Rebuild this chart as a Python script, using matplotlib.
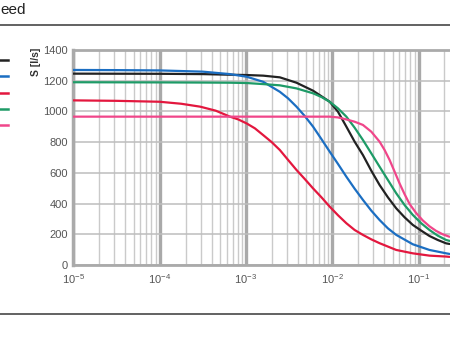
import matplotlib
matplotlib.use("Agg")
import matplotlib.pyplot as plt
from matplotlib.lines import Line2D
from matplotlib.ticker import LogLocator, FixedLocator, LogFormatterMathtext

plt.rcParams['font.family'] = ['Liberation Sans', 'DejaVu Sans']

# curves: x as log10 exponent, S in l/s
black_x = [-5, -4, -3.5, -3.185, -2.992, -2.8, -2.607, -2.414, -2.222, -2.029, -1.933, -1.836, -1.74,
           -1.644, -1.547, -1.451, -1.355, -1.258, -1.162, -1.066, -0.969, -0.873, -0.777, -0.68, -0.64]
black_y = [1246, 1245, 1243, 1239, 1237, 1233, 1222, 1187, 1135, 1063, 998, 901, 803,
           716, 614, 521, 441, 369, 311, 261, 224, 189, 163, 141, 137]

blue_x = [-5, -4.5, -4, -3.5, -3.185, -2.992, -2.8, -2.607, -2.511, -2.414, -2.318, -2.222, -2.125,
          -2.029, -1.933, -1.836, -1.74, -1.644, -1.547, -1.451, -1.355, -1.258, -1.066, -0.873, -0.68, -0.64]
blue_y = [1270, 1269, 1267, 1259, 1243, 1226, 1193, 1128, 1085, 1031, 970, 901, 820,
          738, 658, 575, 497, 424, 354, 293, 239, 196, 135, 98, 76, 72]

red_x = [-5, -4.5, -4, -3.75, -3.53, -3.35, -3.185, -3.089, -2.992, -2.896, -2.8, -2.703, -2.607, -2.511,
         -2.414, -2.318, -2.222, -2.125, -2.029, -1.933, -1.836, -1.74, -1.644, -1.547, -1.451, -1.258,
         -1.066, -0.873, -0.68, -0.64]
red_y = [1072, 1069, 1063, 1050, 1031, 1005, 966, 948, 922, 890, 846, 801, 749, 684,
         619, 560, 499, 441, 380, 324, 272, 228, 196, 167, 142, 98,
         76, 61, 55, 53]

green_x = [-5, -4, -3.5, -3.185, -2.992, -2.8, -2.607, -2.414, -2.222, -2.125, -2.029, -1.933, -1.836,
           -1.74, -1.644, -1.547, -1.451, -1.355, -1.258, -1.162, -1.066, -0.969, -0.873, -0.777, -0.68, -0.64]
green_y = [1190, 1189, 1188, 1187, 1185, 1178, 1170, 1150, 1118, 1094, 1063, 1020, 966,
           894, 814, 727, 640, 554, 467, 391, 326, 272, 228, 191, 163, 157]

pink_x = [-5, -4, -3, -2.5, -2.029, -1.933, -1.836, -1.74, -1.644, -1.547, -1.451, -1.393, -1.335,
          -1.277, -1.22, -1.162, -1.104, -1.027, -0.95, -0.873, -0.796, -0.719, -0.642]
pink_y = [966, 966, 966, 966, 966, 961, 948, 933, 912, 868, 803, 749, 684,
          608, 532, 462, 398, 338, 290, 252, 222, 200, 184]

series = [
    (black_x, black_y, '#222222'),
    (blue_x, blue_y, '#1b6ec2'),
    (red_x, red_y, '#e3173e'),
    (green_x, green_y, '#1e9b67'),
    (pink_x, pink_y, '#f0468a'),
]

y_ticks = [0, 200, 400, 600, 800, 1000, 1200, 1400]

fig = plt.figure(figsize=(4.5, 3.38), dpi=100)
ax = fig.add_axes([73.3 / 450, 1 - 265 / 338, 1 - 73.3 / 450, 215 / 338])

for xs, ys, col in series:
    ax.plot([10 ** v for v in xs], ys, color=col, lw=1.6, solid_capstyle='round',
            solid_joinstyle='round', zorder=3)

ax.set_xscale('log')
ax.set_xlim(1e-5, 10 ** -0.635)
ax.set_ylim(0, 1400)
ax.xaxis.set_major_locator(LogLocator(base=10, numticks=10))
ax.xaxis.set_major_formatter(LogFormatterMathtext())
ax.xaxis.set_minor_locator(LogLocator(base=10, subs=range(2, 10), numticks=20))
ax.yaxis.set_major_locator(FixedLocator(y_ticks))

ax.grid(which='major', axis='x', color='#a9a9a9', lw=2.4)
ax.grid(which='minor', axis='x', color='#cacaca', lw=1.0)
ax.grid(which='major', axis='y', color='#bdbdbd', lw=1.1)
ax.tick_params(which='both', length=0, labelsize=8, colors='#555555', pad=4)
ax.tick_params(axis='x', pad=5)

for side in ['left', 'top', 'bottom']:
    ax.spines[side].set_color('#aaaaaa')
    ax.spines[side].set_linewidth(2)
ax.spines['left'].set_linewidth(2.5)
ax.spines['right'].set_visible(False)

fig.text(36 / 450, 1 - 62 / 338, 'S [l/s]', rotation=90, ha='center', va='center',
         fontsize=7.5, fontweight='bold', color='#333333')

# title and rules
fig.text(0.0, 1 - 10 / 338, 'eed', ha='left', va='center', fontsize=11, color='#222222')
fig.add_artist(Line2D([0, 1], [1 - 25 / 338, 1 - 25 / 338], color='#555555', lw=1.3))
fig.add_artist(Line2D([0, 1], [1 - 314 / 338, 1 - 314 / 338], color='#555555', lw=1.3))

# legend swatches (labels cropped in the reference)
for i, (_, _, col) in enumerate(series):
    yy = 1 - (60 + 16.3 * i) / 338
    fig.add_artist(Line2D([0, 8 / 450], [yy, yy], color=col, lw=1.8))

fig.savefig('out.png', dpi=100)
